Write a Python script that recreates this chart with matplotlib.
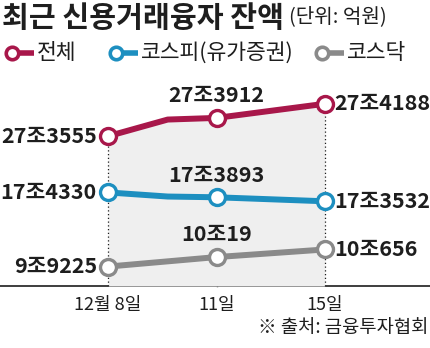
import matplotlib.pyplot as plt
from matplotlib import transforms

plt.rcParams['font.family'] = ['Noto Sans CJK KR', 'DejaVu Sans']

# 신용거래융자 잔액 (억원)
date_labels = ['12월 8일', '11일', '15일']
date_pos = [0, 1, 2]
line_pos = [0, 0.55, 1, 2]          # 8일과 11일 사이 꺾이는 지점 포함
total = [273555, 273880, 273912, 274188]
kospi = [174330, 173960, 173893, 173532]
kosdaq_pos = [0, 1, 2]
kosdaq = [99225, 100019, 100656]

RED = '#a8174a'
BLUE = '#1d8fc0'
GRAY = '#8a8a8a'
SHADE = '#efefef'
INK = '#1e1e1e'

W, H = 431, 348
fig = plt.figure(figsize=(W / 100, H / 100), dpi=100)

deco = fig.add_axes([0, 0, 1, 1])
deco.set_xlim(0, W)
deco.set_ylim(H, 0)
deco.axis('off')

X0, X2 = 108, 325
step = (X2 - X0) / 2
xlim = (-X0 / step, 2 + (W - X2) / step)
BASE = 286


def series_axes(mid_val, mid_px, per_px):
    a = fig.add_axes([0, 0, 1, 1])
    a.set_xlim(*xlim)
    a.set_ylim(mid_val - (H - mid_px) * per_px, mid_val + mid_px * per_px)
    a.axis('off')
    return a


def fmt(v):
    return f'{v // 10000}조{v % 10000}'


ax_r = series_axes(273885, 119.3, 19.5)
ax_b = series_axes(173918, 197, 90)
ax_g = series_axes(99967, 257.7, 83.6)

# 바닥선 아래까지 음영
base_r = 273885 + (119.3 - BASE) * 19.5
ax_r.fill_between(line_pos, total, base_r, color=SHADE, lw=0, zorder=0)
for i in (0, 3):
    ax_r.vlines(line_pos[i], base_r, total[i], colors=INK, lw=0.9,
                linestyles=(0, (1, 2)), zorder=1)


def draw(a, xs, ys, color, marks):
    a.plot(xs, ys, color=color, lw=4.3, solid_capstyle='butt', zorder=2)
    a.plot([xs[i] for i in marks], [ys[i] for i in marks], 'o', ms=11.5,
           mfc='white', mec=color, mew=2.4, zorder=3)
    first, mid, last = marks
    kw = dict(textcoords='offset points', fontsize=15.5, fontweight='bold',
              color=INK, va='center')
    a.annotate(fmt(ys[first]), (xs[first], ys[first]), xytext=(-8, 0), ha='right', **kw)
    a.annotate(fmt(ys[mid]), (xs[mid], ys[mid]), xytext=(0, 16), ha='center', **kw)
    a.annotate(fmt(ys[last]), (xs[last], ys[last]), xytext=(7, 0), ha='left', **kw)


draw(ax_r, line_pos, total, RED, [0, 2, 3])
draw(ax_b, line_pos, kospi, BLUE, [0, 2, 3])
draw(ax_g, kosdaq_pos, kosdaq, GRAY, [0, 1, 2])

# x축
deco.axhline(BASE, color=INK, lw=1.2)
tr = transforms.blended_transform_factory(ax_r.transData, deco.transData)
deco.plot([1, 1], [BASE - 7, BASE], color=INK, lw=1, transform=tr)
for p, lab in zip(date_pos, date_labels):
    deco.text(p, BASE + 19, lab, transform=tr, ha='center', va='center',
              fontsize=13, color=INK)

# 제목과 범례
deco.text(2, 18, '최근 신용거래융자 잔액', fontsize=21, fontweight='bold',
          color=INK, va='center', ha='left')
deco.text(289, 17, '(단위: 억원)', fontsize=14.5, color=INK,
          va='center', ha='left')
for cx, color, lab in [(12, RED, '전체'), (116, BLUE, '코스피(유가증권)'),
                       (322, GRAY, '코스닥')]:
    deco.plot([cx, cx + 22], [53, 53], color=color, lw=4, solid_capstyle='butt')
    deco.plot(cx, 53, 'o', ms=9, mfc='white', mec=color, mew=2.6)
    deco.text(cx + 25, 53, lab, fontsize=15.5, color=INK, va='center', ha='left')

deco.text(428, 328, '※ 출처: 금융투자협회', fontsize=13.5, color=INK,
          va='center', ha='right')

fig.savefig('out.png', dpi=100)
